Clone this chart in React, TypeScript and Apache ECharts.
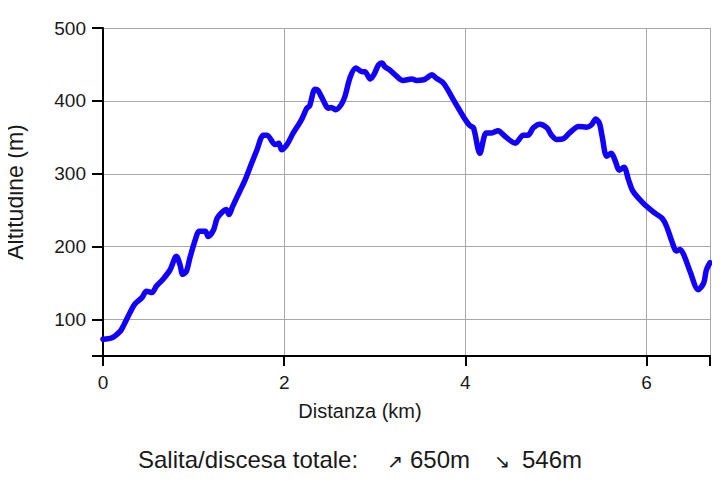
import React, { useEffect, useRef } from "react";
import * as echarts from "echarts";

const distKm = [0, 0.10, 0.19, 0.22, 0.30, 0.35, 0.43, 0.48, 0.54, 0.59, 0.66, 0.74, 0.81, 0.85, 0.88, 0.92, 0.96, 1.02, 1.06, 1.13, 1.16, 1.22, 1.26, 1.32, 1.36, 1.39, 1.43, 1.51, 1.57, 1.62, 1.70, 1.77, 1.81, 1.90, 1.94, 1.97, 2.03, 2.10, 2.19, 2.25, 2.28, 2.34, 2.37, 2.41, 2.49, 2.52, 2.57, 2.63, 2.67, 2.73, 2.79, 2.86, 2.89, 2.95, 2.99, 3.04, 3.08, 3.11, 3.17, 3.24, 3.31, 3.41, 3.46, 3.54, 3.57, 3.63, 3.68, 3.76, 3.87, 3.98, 4.05, 4.09, 4.16, 4.23, 4.29, 4.36, 4.44, 4.55, 4.64, 4.69, 4.75, 4.82, 4.90, 4.95, 5.01, 5.08, 5.15, 5.25, 5.34, 5.39, 5.44, 5.48, 5.51, 5.56, 5.61, 5.65, 5.70, 5.75, 5.80, 5.85, 5.96, 6.07, 6.17, 6.22, 6.28, 6.33, 6.37, 6.41, 6.48, 6.57, 6.63, 6.66, 6.70];
const altitudeM = [73, 75, 84, 90, 110, 121, 130, 139, 137, 146, 155, 168, 187, 175, 162, 166, 185, 210, 221, 221, 214, 223, 239, 248, 251, 244, 255, 276, 292, 308, 333, 353, 353, 340, 342, 333, 340, 356, 374, 390, 393, 416, 415, 406, 390, 391, 388, 395, 406, 433, 445, 440, 440, 430, 436, 449, 452, 447, 442, 434, 428, 430, 428, 429, 431, 436, 431, 424, 401, 378, 366, 363, 328, 356, 356, 359, 351, 342, 353, 353, 363, 368, 363, 353, 347, 348, 356, 365, 364, 367, 375, 369, 351, 324, 328, 319, 305, 309, 292, 276, 260, 248, 239, 228, 207, 194, 196, 189, 166, 141, 150, 168, 178];

const xTicks = [0, 2, 4, 6, 6.7];
const xLabels = [0, 2, 4, 6];
const yTicks = [50, 100, 200, 300, 400, 500];
const yLabels = [100, 200, 300, 400, 500];

const xTitle = "Distanza (km)";
const yTitle = "Altitudine (m)";
const summaryLabel = "Salita/discesa totale:";
const ascent = "650m";
const descent = "546m";

const FONT = "'Liberation Sans', Arial, sans-serif";
const TEXT = "#1a1a1a";

export default function App() {
  const ref = useRef<HTMLDivElement>(null);
  useEffect(() => {
    if (!ref.current) return;
    const chart = echarts.init(ref.current, null, { renderer: "svg" });
    const data = distKm.map((d, i) => [d, altitudeM[i]]);
    chart.setOption({
      animation: false,
      backgroundColor: "#ffffff",
      grid: { left: 103, top: 28, width: 607, height: 328, containLabel: false },
      xAxis: {
        type: "value",
        min: 0,
        max: 6.7,
        axisLine: { show: true, onZero: false, lineStyle: { color: "#000", width: 2 } },
        axisTick: { show: true, length: 10, customValues: xTicks, lineStyle: { color: "#000", width: 2 } },
        axisLabel: { customValues: xLabels, margin: 17, fontSize: 19, color: TEXT, fontFamily: FONT },
        splitLine: { show: true, lineStyle: { color: "#a8a8a8", width: 1 } },
      },
      yAxis: {
        type: "value",
        min: 50,
        max: 500,
        axisLine: { show: true, onZero: false, lineStyle: { color: "#000", width: 2 } },
        axisTick: { show: true, length: 11, customValues: yTicks, lineStyle: { color: "#000", width: 2 } },
        axisLabel: { customValues: yLabels, margin: 17, fontSize: 19, color: TEXT, fontFamily: FONT },
        splitLine: { show: true, lineStyle: { color: "#a8a8a8", width: 1 } },
      },
      series: [
        {
          type: "line",
          data,
          symbol: "none",
          smooth: 0.3,
          clip: false,
          lineStyle: { color: "#1200ff", width: 5.5, cap: "round", join: "round" },
        },
      ],
      graphic: [
        {
          type: "text",
          x: 360,
          y: 411,
          style: { text: xTitle, fontSize: 20, fontFamily: FONT, fill: TEXT, align: "center", verticalAlign: "middle" },
        },
        {
          type: "text",
          x: 15,
          y: 192,
          rotation: Math.PI / 2,
          style: { text: yTitle, fontSize: 23, fontFamily: FONT, fill: TEXT, align: "center", verticalAlign: "middle" },
        },
        {
          type: "text",
          x: 138,
          y: 459,
          style: { text: summaryLabel, fontSize: 24, fontFamily: FONT, fill: TEXT, align: "left", verticalAlign: "middle" },
        },
        {
          type: "text",
          x: 395,
          y: 461,
          style: { text: "↗", fontSize: 19, fontFamily: "'DejaVu Sans', sans-serif", fill: TEXT, align: "center", verticalAlign: "middle" },
        },
        {
          type: "text",
          x: 410,
          y: 459,
          style: { text: ascent, fontSize: 24, fontFamily: FONT, fill: TEXT, align: "left", verticalAlign: "middle" },
        },
        {
          type: "text",
          x: 502,
          y: 461,
          style: { text: "↘", fontSize: 19, fontFamily: "'DejaVu Sans', sans-serif", fill: TEXT, align: "center", verticalAlign: "middle" },
        },
        {
          type: "text",
          x: 522,
          y: 459,
          style: { text: descent, fontSize: 24, fontFamily: FONT, fill: TEXT, align: "left", verticalAlign: "middle" },
        },
      ],
    });
    return () => chart.dispose();
  }, []);
  return <div ref={ref} style={{ width: 720, height: 493, margin: -8 }} />;
}
